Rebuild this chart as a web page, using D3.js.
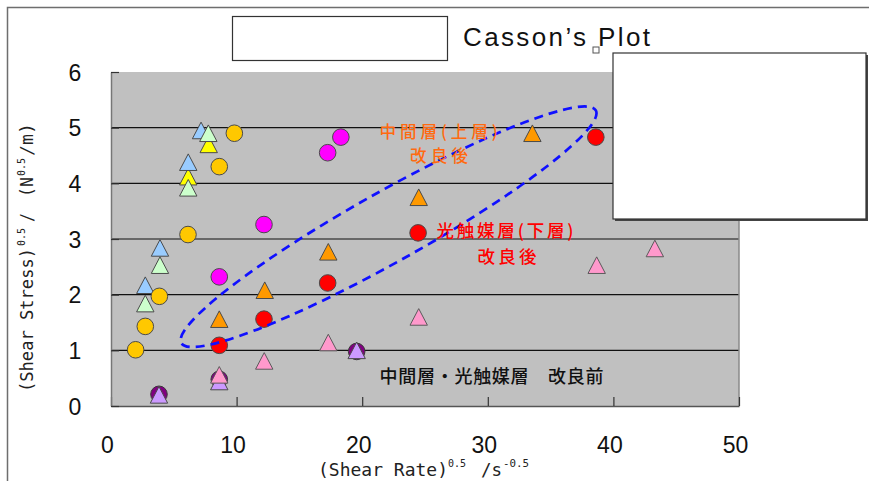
<!DOCTYPE html>
<html><head><meta charset="utf-8">
<script src="https://cdn.jsdelivr.net/npm/d3@7"></script>
<style>body{margin:0;background:#fff}svg{display:block}</style>
</head><body>
<script>
// ---- data ----
const xTicks = [0, 10, 20, 30, 40, 50];
const yTicks = [0, 1, 2, 3, 4, 5, 6];

const goldCircX = [1.96, 2.73, 3.85, 6.13, 8.62, 9.82];
const goldCircY = [1.01, 1.43, 1.97, 3.08, 4.30, 4.90];
const blueTriX = [2.73, 3.90, 6.15, 7.17];
const blueTriY = [2.17, 2.84, 4.38, 4.95];
const greenTriX = [2.73, 3.90, 6.15, 7.75];
const greenTriY = [1.84, 2.53, 3.92, 4.90];
const yellowTriX = [6.15, 7.78];
const yellowTriY = [4.12, 4.70];
const magentaCircX = [8.62, 12.18, 17.25, 18.30];
const magentaCircY = [2.32, 3.26, 4.55, 4.83];
const orangeTriX = [8.62, 12.24, 17.30, 24.50, 33.55];
const orangeTriY = [1.56, 2.08, 2.77, 3.75, 4.90];
const redCircX = [8.62, 12.18, 17.25, 24.45, 38.60];
const redCircY = [1.09, 1.56, 2.21, 3.11, 4.83];
const purpleCircX = [3.82, 8.62, 19.56];
const purpleCircY = [0.21, 0.48, 0.98];
const lavTriX = [3.82, 8.62, 19.56];
const lavTriY = [0.20, 0.44, 1.00];
const pinkTriX = [8.62, 12.20, 17.30, 24.50, 38.67, 43.30];
const pinkTriY = [0.56, 0.81, 1.14, 1.60, 2.53, 2.83];

const ellipseEnds = [[5.6, 1.13], [38.6, 5.31]];

const titleText = "Casson\u2019s Plot";
const noteUpper = ["中間層(上層)", "改良後"];
const noteLower = ["光触媒層(下層)", "改良後"];
const noteBefore = "中間層・光触媒層　改良前";

// ---- drawing ----
const W = 869, H = 481;
const svg = d3.select("body").append("svg").attr("width", W).attr("height", H);
const x = d3.scaleLinear().domain([0, 50]).range([111, 739]);
const y = d3.scaleLinear().domain([0, 6]).range([406, 72]);

// outer chart frame
svg.append("rect").attr("x", 7.5).attr("y", 7.5).attr("width", 900).attr("height", 500)
  .attr("fill", "none").attr("stroke", "#6e6e6e").attr("stroke-width", 1.5);

// plot background
svg.append("rect").attr("x", x(0)).attr("y", y(6))
  .attr("width", x(50) - x(0)).attr("height", y(0) - y(6)).attr("fill", "#c0c0c0");

// gridlines
svg.append("g").selectAll("line").data(yTicks.filter(d => d > 0 && d < 6)).join("line")
  .attr("x1", x(0)).attr("x2", x(50)).attr("y1", d => y(d)).attr("y2", d => y(d))
  .attr("stroke", "#111").attr("stroke-width", 1.2);

// right border
svg.append("line").attr("x1", x(50)).attr("x2", x(50)).attr("y1", y(6)).attr("y2", y(0))
  .attr("stroke", "#8a8a8a").attr("stroke-width", 1.5);

// x axis
const gx = svg.append("g").attr("transform", `translate(0,${y(0)})`)
  .call(d3.axisBottom(x).tickValues(xTicks).tickFormat(d3.format("d")).tickSize(-9).tickSizeOuter(0));
gx.select(".domain").attr("stroke", "#555").attr("stroke-width", 1.5);
gx.selectAll(".tick line").attr("stroke", "#333").attr("stroke-width", 1.2);
gx.selectAll("text").attr("y", 47).attr("dy", 0).attr("x", -4)
  .attr("font-family", "Liberation Sans, Arial, sans-serif").attr("font-size", 23).attr("fill", "#111");

// y axis
const gy = svg.append("g").attr("transform", `translate(${x(0)},0)`)
  .call(d3.axisLeft(y).tickValues(yTicks).tickFormat(d3.format("d")).tickSize(-8).tickSizeOuter(0));
gy.select(".domain").attr("stroke", "#777").attr("stroke-width", 1.5);
gy.selectAll(".tick line").attr("stroke", "#333").attr("stroke-width", 1.2);
gy.selectAll("text").attr("x", -36).attr("dy", "0.36em").attr("text-anchor", "middle")
  .attr("font-family", "Liberation Sans, Arial, sans-serif").attr("font-size", 23).attr("fill", "#111");

// markers
const triPath = "M0,-8.3L8.7,8.3L-8.7,8.3Z";
function circles(xs, ys, fill, stroke) {
  svg.append("g").selectAll("circle").data(xs.map((d, i) => [d, ys[i]])).join("circle")
    .attr("cx", d => x(d[0])).attr("cy", d => y(d[1])).attr("r", 8.3)
    .attr("fill", fill).attr("stroke", stroke || "#4a4a4a").attr("stroke-width", 1);
}
function triangles(xs, ys, fill, stroke) {
  svg.append("g").selectAll("path").data(xs.map((d, i) => [d, ys[i]])).join("path")
    .attr("d", triPath).attr("transform", d => `translate(${x(d[0])},${y(d[1])})`)
    .attr("fill", fill).attr("stroke", stroke || "#4a4a4a").attr("stroke-width", 1);
}
triangles(yellowTriX, yellowTriY, "#ffff00");
triangles(blueTriX, blueTriY, "#99ccff");
triangles(greenTriX, greenTriY, "#ccffcc");
circles(goldCircX, goldCircY, "#ffc800");
circles(magentaCircX, magentaCircY, "#ff00ff");
triangles(orangeTriX, orangeTriY, "#ff9900");
circles(redCircX, redCircY, "#ff0000");
circles(purpleCircX, purpleCircY, "#800080", "#3a3a3a");
triangles(lavTriX, lavTriY, "#cc99ff");
triangles(pinkTriX, pinkTriY, "#ff99cc", "#5a5a5a");

// dashed ellipse
{
  const p0 = [x(ellipseEnds[0][0]), y(ellipseEnds[0][1])];
  const p1 = [x(ellipseEnds[1][0]), y(ellipseEnds[1][1])];
  const cx = (p0[0] + p1[0]) / 2, cy = (p0[1] + p1[1]) / 2;
  const a = Math.hypot(p1[0] - p0[0], p1[1] - p0[1]) / 2;
  const ang = Math.atan2(p1[1] - p0[1], p1[0] - p0[0]) * 180 / Math.PI;
  svg.append("ellipse").attr("cx", 0).attr("cy", 0).attr("rx", a).attr("ry", 35)
    .attr("transform", `translate(${cx},${cy}) rotate(${ang})`)
    .attr("fill", "none").attr("stroke", "#1010ff").attr("stroke-width", 2.7)
    .attr("stroke-dasharray", "9,6");
}

// annotations
const cjk = "Noto Sans CJK JP, sans-serif";
function note(t, cxp, cyp, len, color, fs) {
  svg.append("text").attr("x", cxp).attr("y", cyp + 6.5).attr("text-anchor", "middle")
    .attr("font-family", cjk).attr("font-size", fs || 18).attr("font-weight", 500)
    .attr("fill", color).attr("textLength", len).attr("lengthAdjust", "spacing").text(t);
}
note(noteUpper[0], 438.5, 131, 118, "#ff6a10", 16.5);
note(noteUpper[1], 439, 155, 58, "#ff6a10", 16.5);
note(noteLower[0], 505, 230, 137, "#ff0000", 17.5);
note(noteLower[1], 507, 256, 59, "#ff0000", 17.5);
note(noteBefore, 491.5, 376, 224, "#111");

// axis titles
const mono = "DejaVu Sans Mono, monospace";
function seg(g, t, xx, yy, len, fs) {
  g.append("text").attr("x", xx).attr("y", yy).attr("font-family", mono).attr("font-size", fs)
    .attr("fill", "#222").attr("textLength", len).attr("lengthAdjust", "spacingAndGlyphs").text(t);
}
{
  const g = svg.append("g");
  seg(g, "(Shear  Rate)", 318, 476, 130, 17);
  seg(g, "0.5", 448, 467, 18, 11);
  seg(g, "/s", 481, 476, 21, 17);
  seg(g, "-0.5", 503, 467, 26, 11);
}
{
  const g = svg.append("g").attr("transform", "translate(33,392) rotate(-90)");
  seg(g, "(Shear Stress)", 0, 0, 144, 17);
  seg(g, "0.5", 146, -8, 18, 11);
  seg(g, "/", 170, 0, 9, 17);
  seg(g, "(N", 195, 0, 20, 17);
  seg(g, "0.5", 216, -8, 18, 11);
  seg(g, "/m)", 236, 0, 33, 17);
}

// title placeholder box, title, legend box
svg.append("rect").attr("x", 232.5).attr("y", 16.5).attr("width", 215).attr("height", 44)
  .attr("fill", "#fff").attr("stroke", "#333").attr("stroke-width", 1.2);
svg.append("text").attr("x", 463).attr("y", 46).attr("font-family", "Liberation Sans, Arial, sans-serif")
  .attr("font-size", 26).attr("fill", "#111").attr("textLength", 187).attr("lengthAdjust", "spacing")
  .text(titleText);
svg.append("rect").attr("x", 593).attr("y", 47).attr("width", 6).attr("height", 6)
  .attr("fill", "#fff").attr("stroke", "#555").attr("stroke-width", 1);
svg.append("rect").attr("x", 615).attr("y", 55).attr("width", 253).attr("height", 166)
  .attr("fill", "#444");
svg.append("rect").attr("x", 613).attr("y", 53).attr("width", 253).attr("height", 166)
  .attr("fill", "#fff").attr("stroke", "#333").attr("stroke-width", 1.2);
</script>
</body></html>
